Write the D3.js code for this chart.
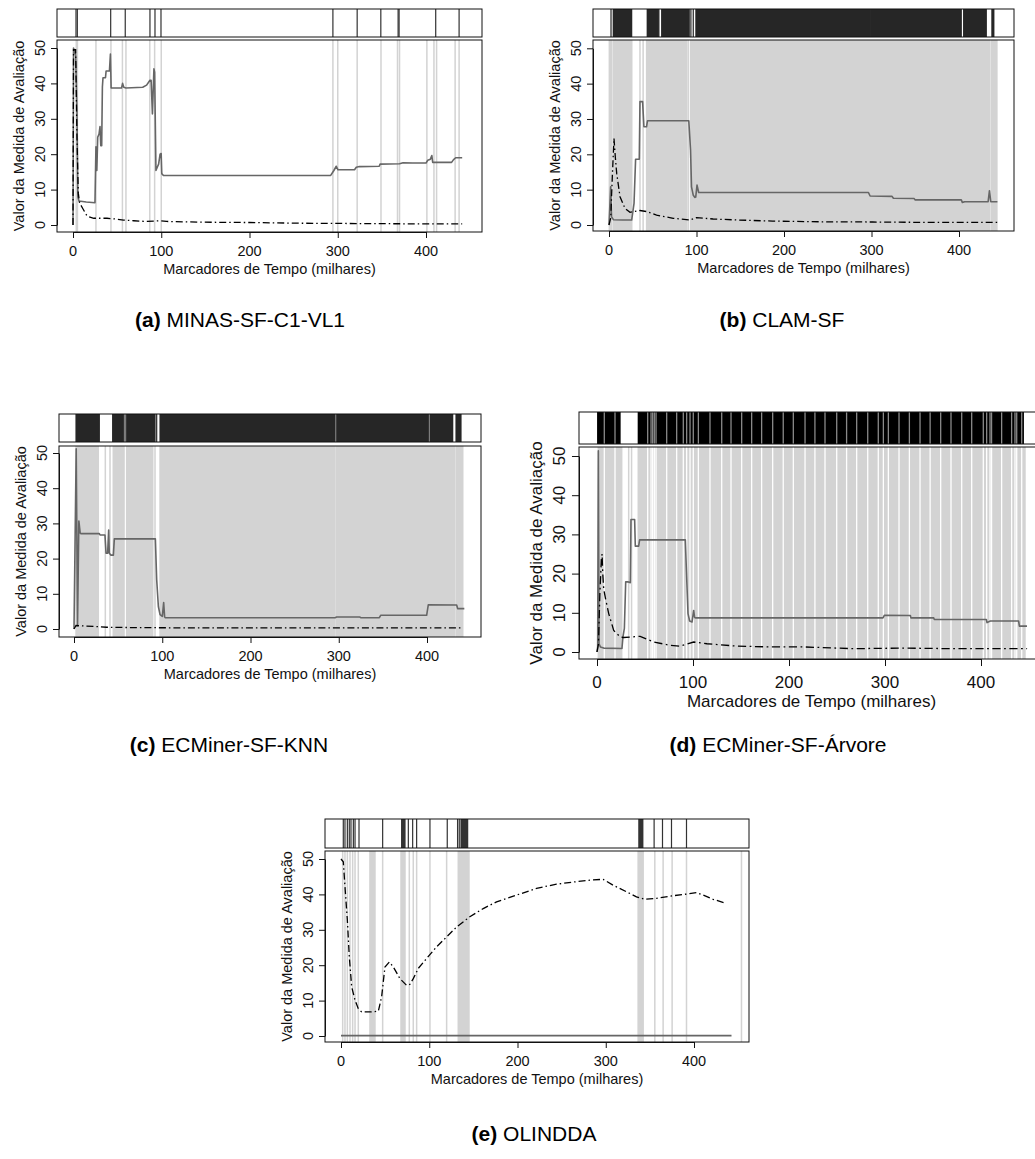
<!DOCTYPE html>
<html>
<head>
<meta charset="utf-8">
<script src="https://cdn.jsdelivr.net/npm/d3@7"></script>
<style>
  body { margin: 0; background: #fff; }
  text { font-family: "Liberation Sans", Arial, Helvetica, sans-serif; }
</style>
</head>
<body>
<svg id="fig"></svg>
<script>
// ---- shared labels
const xTicks = [0, 100, 200, 300, 400];
const yTicks = [0, 10, 20, 30, 40, 50];
const xTitle = "Marcadores de Tempo (milhares)";
const yTitle = "Valor da Medida de Avaliação";

// ---- (a) MINAS-SF-C1-VL1   spans are [start, end] in thousands
const stripA = [[3.4,3.4],[4.9,4.9],[42.7,42.7],[59.2,59.2],[87.2,87.2],[92.9,92.9],[99.7,99.7],
  [294.5,294.5],[322,322],[348.8,348.8],[368.4,368.4],[369.5,369.5],[411,411],[437.5,437.5]];
const bandsA = [[3.7,3.7],[5,5],[26,26],[43,43],[56,56],[60,60],[87,87],[92.5,92.5],[100,100],
  [294.5,294.5],[300,300],[322,322],[349,349],[367.7,367.7],[370,370],[401,401],[409,409],
  [412,412],[433,433],[437.5,437.5]];
const solidA = [[0,0],[0.6,50],[3,48],[4.5,32],[5.5,8],[6.8,6.8],[15,6.5],[24.9,6.3],[26,22.1],
  [27,15.4],[28,24.8],[29.5,25.7],[30.6,27.8],[31.5,22.4],[32.5,22.4],[33.3,39],[34,41.6],
  [36.8,41.6],[37.5,43.5],[41.3,43.5],[42.4,48.3],[43.2,38.7],[55,38.7],[56.2,40],[57.5,38.9],
  [60,38.7],[79,38.9],[83.4,39.5],[87.2,40.9],[88.5,40.9],[90,31.4],[91.7,44.1],[92.5,43.2],
  [94,15.4],[95.5,16.3],[97,17.2],[98.7,20],[99.9,20.2],[100.6,14.5],[102.5,14],[292,14],
  [295.6,15.4],[298.3,16.6],[300.3,15.6],[319,15.6],[321,16.3],[324.5,16.5],[347,16.6],
  [348,17.2],[370,17.3],[374,17.6],[385,17.5],[400,17.5],[402,18.3],[405,18.6],[406.6,19.6],
  [407.6,17.7],[429,17.7],[431,18.4],[433.6,19],[441,19]];
const dashA = [[0,0],[0.6,49.5],[3,49.5],[4.4,26],[6,9],[7.5,6.2],[11.2,4.6],[16,2.5],[23.5,1.9],
  [38.5,1.9],[48,1.7],[57.3,1.4],[68.7,1.2],[83.4,1.0],[98.7,1.2],[106,1.0],[143.8,0.8],
  [200,0.7],[257,0.5],[332,0.4],[408,0.3],[441,0.3]];

// ---- (b) CLAM-SF
const stripB = [[2.3,2.3],[4.9,25.9],[43.7,56.3],[57,57],[60.2,91.7],[93.6,93.6],[96.3,96.3],
  [99.3,298],[299,402.6],[405.3,431.2],[437.6,439.8]];
const bandsB = [[0.4,3],[5,26],[35.4,35.4],[39,39],[43,57.4],[59,88.7],[90.5,90.5],[93.2,93.2],
  [94.4,407.5],[408.7,435],[436.9,443.3]];
const solidB = [[0,0],[1.9,10.8],[3,2.3],[5,1.5],[15,1.4],[25.9,1.4],[27,3.3],[28.6,6.1],
  [30.4,18.6],[34.6,18.6],[35.4,34.9],[38.4,34.9],[39.9,27.8],[42.9,27.8],[44,29.5],[91.2,29.5],
  [93.2,21.2],[94.3,10.8],[96.2,8.5],[98,7.8],[99.1,7.9],[100.6,11.3],[102.5,9.2],[296.5,9.2],
  [298.4,8.2],[323.5,8.1],[325,7.55],[348.6,7.5],[350,7.1],[402.6,7.1],[403.8,6.4],[406.6,6.6],
  [433.3,6.6],[434.8,9.7],[436.3,6.6],[443.9,6.6]];
const dashB = [[0,0],[2,2],[4,15],[5.7,24.5],[7.2,19.3],[8.8,14.6],[12.6,8],[18.3,4.7],[24,3.6],
  [35.4,4.1],[43,3.8],[54.4,2.8],[73.4,1.9],[92.4,1.4],[100,2.1],[119,1.7],[149,1.4],[187,1.1],
  [244,0.9],[301,0.85],[358,0.75],[415,0.75],[444,0.75]];

// ---- (c) ECMiner-SF-KNN
const stripC = [[2.3,28.7],[43.8,55.9],[57.8,57.8],[59.7,91.8],[93.7,93.7],[97.5,295.8],
  [297.7,401.5],[403.4,429.1],[432.9,438.5]];
const bandsC = [[2.3,27.5],[35.5,35.5],[40.8,40.8],[44.5,56.7],[59.7,89.2],[91.8,91.8],
  [97.5,295.8],[297.7,431.7],[433.7,440.5]];
const solidC = [[0,0],[2.5,51.2],[4,1],[5.5,30.7],[7,27.3],[7.6,27.1],[28.7,27.1],[29.5,26.7],
  [35.1,26.7],[36.3,21.5],[38.1,21.5],[39.3,28.1],[40,21.5],[41.9,21],[44.6,21],[45.7,25.6],
  [92.2,25.6],[93.7,14],[95.6,6.4],[97.5,4.1],[100.1,3.6],[101.6,7.5],[102.7,3.4],[103.5,3.2],
  [295.8,3.2],[297.6,3.4],[324,3.4],[325,3.2],[346,3.2],[347.5,3.9],[399.6,3.9],[401.5,6.9],
  [433.6,6.8],[434.7,5.8],[442.3,5.8]];
const dashC = [[0,0],[2.3,1],[6.8,0.9],[22,0.75],[37,0.5],[67,0.4],[143,0.3],[256,0.3],[440,0.3]];

// ---- (d) ECMiner-SF-Árvore
const stripD = [[0.7,24],[43,444.1]];
const bandsD = [[1.4,25.7],[33,33],[36,36],[43,445.8]];
const gapsD = [7.6,18.75,52.8,56.3,58,59.7,61.5,72.6,83,89.9,93.4,96.9,100.3,105.6,117.7,129.9,
  139.6,150.7,161.1,171.5,183,194,204.5,216.7,227,237.5,249.7,260,270.5,282,293,298.3,303.5,
  314.6,325.4,336.5,347,358,368.75,379.9,390.3,402.4,405.9,409.4,411,421.5,431.9,435.4,437.2,442.4];
const solidD = [[0,0],[0.7,1.3],[1.4,51.3],[2.1,2.1],[3.5,1.3],[7,1],[26,0.9],[27,3.8],[28.5,6],
  [29.9,17.9],[32,17.9],[34.7,17.7],[35.4,33.8],[39.2,33.8],[39.9,27],[43.4,27],[44.4,28.6],
  [92,28.6],[93,21.7],[94.8,9.8],[96.5,7.9],[99,7.65],[100.7,10.6],[101.7,8.8],[102.5,8.7],
  [297.9,8.7],[299.3,9.35],[326.4,9.3],[327,8.7],[350.7,8.7],[351.4,8.3],[405.6,8.3],
  [406.25,7.5],[409.7,7.9],[439.2,7.9],[440,6.6],[447.9,6.6]];
const dashD = [[0,0],[1.5,2],[3,15],[4.5,23.5],[5.3,25],[6,20],[7,16],[9,13.5],[12.2,9.8],
  [17.4,5.5],[24.3,3.8],[27.8,3.7],[45,4],[59,2.55],[76.4,1.7],[86.8,1.5],[100.7,2.55],
  [114.6,2.1],[145.8,1.5],[180.6,1.3],[215,1.3],[267,0.85],[319,1],[371.5,0.85],[448,0.85]];

// ---- (e) OLINDDA
const stripE = [[2.6,2.6],[4.5,4.5],[7.2,7.2],[9.4,9.4],[11.3,11.3],[14,14],[15.9,15.9],[20.4,20.4],
  [47.2,47.2],[68.7,72.5],[76.3,76.3],[81.2,81.2],[85.7,85.7],[100.8,100.8],[120.4,120.4],
  [132.1,132.1],[134,134],[136,143.5],[337.5,342],[354.8,354.8],[364.3,364.3],[374.5,374.5],
  [391.5,391.5]];
const bandsE = [[1.9,1.9],[4.5,4.5],[7.2,7.2],[10.2,10.2],[13.2,13.2],[15.9,15.9],[19.6,19.6],
  [32.8,38.5],[47.2,47.2],[68,72.5],[77.4,77.4],[81.9,81.9],[85.7,85.7],[100.8,100.8],
  [119.7,119.7],[132.9,145],[336.7,342.4],[355.6,355.6],[365,365],[375.2,375.2],[391.5,391.5],
  [453.8,453.8]];
const solidE = [[0,0.1],[442.5,0.1]];
const dashE = [[0,50],[2.6,49.2],[4.5,42.2],[7.2,32.7],[9.4,22.4],[12.1,13.9],[15.9,10.1],
  [19.6,7.7],[23.4,6.8],[32.8,6.8],[42.3,7],[46,11],[49.8,19.5],[54.7,20.9],[59.3,19.5],
  [66.8,16.2],[74.4,14.3],[78.1,14.6],[81.9,16.2],[87.6,19.1],[97,21.9],[108.3,25.2],
  [119.7,28],[131,30.8],[146,33.7],[161.2,36],[176.3,37.9],[199,39.8],[221.6,41.7],
  [244.2,42.9],[266.9,43.6],[285.8,44.1],[297,44.25],[308.4,42.6],[323.5,40.75],[334.8,39.3],
  [344.3,38.6],[357.5,38.9],[372.6,39.5],[391.5,40.1],[402.8,40.5],[410.3,39.8],[421.7,38.6],
  [434.9,37.6]];

// ---- layout of the five panels
const panels = [
  {tag:"(a)", name:"MINAS-SF-C1-VL1", strip:stripA, bands:bandsA, gaps:[], solid:solidA, dash:dashA,
   x0:57, x1:482, sTop:9, sBot:37, pTop:40, pBot:232, xr:[73,426], yr:[225,48], fs:14.5, k:1,
   stripFill:"#333", capX:240, capY:327},
  {tag:"(b)", name:"CLAM-SF", strip:stripB, bands:bandsB, gaps:[], solid:solidB, dash:dashB,
   x0:593, x1:1014, sTop:9, sBot:37, pTop:40, pBot:231, xr:[609,959], yr:[225,48.3], fs:14.5, k:1,
   stripFill:"#262626", capX:782, capY:327},
  {tag:"(c)", name:"ECMiner-SF-KNN", strip:stripC, bands:bandsC, gaps:[], solid:solidC, dash:dashC,
   x0:59, x1:481, sTop:414, sBot:442, pTop:446, pBot:637, xr:[74,427], yr:[629,453], fs:14.5, k:1,
   stripFill:"#262626", capX:229, capY:752},
  {tag:"(d)", name:"ECMiner-SF-Árvore", strip:stripD, bands:bandsD, gaps:gapsD, solid:solidD, dash:dashD,
   x0:579, x1:1044, sTop:412, sBot:444, pTop:447, pBot:659, xr:[597,981], yr:[652,456], fs:17, k:1.17,
   stripFill:"#000", capX:778, capY:752},
  {tag:"(e)", name:"OLINDDA", strip:stripE, bands:bandsE, gaps:[], solid:solidE, dash:dashE,
   x0:325, x1:749, sTop:819, sBot:848, pTop:851, pBot:1042, xr:[341,694], yr:[1036,859], fs:14.5, k:1,
   stripFill:"#333", capX:534, capY:1141}
];

const W = 1035, H = 1159;
const svg = d3.select("#fig").attr("width", W).attr("height", H);
svg.append("rect").attr("width", W).attr("height", H).attr("fill", "#fff");

panels.forEach(function(p, i) {
  var x = d3.scaleLinear().domain([0, 400]).range(p.xr);
  var y = d3.scaleLinear().domain([0, 50]).range(p.yr);
  var g = svg.append("g");

  // clip regions
  var defs = g.append("defs");
  defs.append("clipPath").attr("id", "cs" + i).append("rect")
    .attr("x", p.x0).attr("y", p.sTop).attr("width", p.x1 - p.x0).attr("height", p.sBot - p.sTop);
  defs.append("clipPath").attr("id", "cp" + i).append("rect")
    .attr("x", p.x0).attr("y", p.pTop).attr("width", p.x1 - p.x0).attr("height", p.pBot - p.pTop);

  // top strip with event marks
  var sg = g.append("g").attr("clip-path", "url(#cs" + i + ")");
  sg.selectAll("rect.ev").data(p.strip).enter().append("rect")
    .attr("x", function(d) { return x(d[0]) - 0.6; })
    .attr("width", function(d) { return x(d[1]) - x(d[0]) + 1.2; })
    .attr("y", p.sTop).attr("height", p.sBot - p.sTop)
    .attr("fill", p.stripFill);
  sg.selectAll("line.gap").data(p.gaps).enter().append("line")
    .attr("x1", function(d) { return x(d); }).attr("x2", function(d) { return x(d); })
    .attr("y1", p.sTop).attr("y2", p.sBot)
    .attr("stroke", "#8a8a8a").attr("stroke-width", 1.3);
  g.append("rect").attr("x", p.x0).attr("y", p.sTop)
    .attr("width", p.x1 - p.x0).attr("height", p.sBot - p.sTop)
    .attr("fill", "none").attr("stroke", "#111").attr("stroke-width", 1);

  // plot area: light gray bands
  var pg = g.append("g").attr("clip-path", "url(#cp" + i + ")");
  pg.selectAll("rect.band").data(p.bands).enter().append("rect")
    .attr("x", function(d) { return x(d[0]) - 0.75; })
    .attr("width", function(d) { return x(d[1]) - x(d[0]) + 1.5; })
    .attr("y", p.pTop).attr("height", p.pBot - p.pTop)
    .attr("fill", "#d3d3d3");
  pg.selectAll("line.gap").data(p.gaps).enter().append("line")
    .attr("x1", function(d) { return x(d); }).attr("x2", function(d) { return x(d); })
    .attr("y1", p.pTop).attr("y2", p.pBot)
    .attr("stroke", "#fff").attr("stroke-width", 1.3);

  var line = d3.line()
    .x(function(d) { return x(d[0]); })
    .y(function(d) { return y(d[1]); });

  pg.append("path").datum(p.solid)
    .attr("fill", "none").attr("stroke", "#666").attr("stroke-width", 1.6)
    .attr("stroke-linejoin", "round").attr("d", line);
  pg.append("path").datum(p.dash)
    .attr("fill", "none").attr("stroke", "#000").attr("stroke-width", 1.3)
    .attr("stroke-dasharray", (7 * p.k) + "," + (3 * p.k) + "," + (1.5 * p.k) + "," + (3 * p.k))
    .attr("d", line);

  g.append("rect").attr("x", p.x0).attr("y", p.pTop)
    .attr("width", p.x1 - p.x0).attr("height", p.pBot - p.pTop)
    .attr("fill", "none").attr("stroke", "#111").attr("stroke-width", 1);

  // axes (R style: line only across tick span)
  var tl = 6 * p.k;
  g.append("g").attr("transform", "translate(0," + p.pBot + ")")
    .call(d3.axisBottom(x).tickValues(xTicks).tickSize(tl).tickSizeOuter(0).tickFormat(""))
    .call(function(a) { a.selectAll("path,line").attr("stroke", "#111"); });
  g.append("g").attr("transform", "translate(" + p.x0 + ",0)")
    .call(d3.axisLeft(y).tickValues(yTicks).tickSize(tl).tickSizeOuter(0).tickFormat(""))
    .call(function(a) { a.selectAll("path,line").attr("stroke", "#111"); });

  g.selectAll("text.xt").data(xTicks).enter().append("text")
    .attr("x", function(d) { return x(d); }).attr("y", p.pBot + 24 * p.k + (p.k > 1 ? 0.5 : 0))
    .attr("text-anchor", "middle").attr("font-size", p.fs).attr("fill", "#111")
    .text(function(d) { return d; });
  g.selectAll("text.yt").data(yTicks).enter().append("text")
    .attr("transform", function(d) {
      return "translate(" + (p.x0 - 12 * p.k) + "," + y(d) + ") rotate(-90)";
    })
    .attr("text-anchor", "middle").attr("font-size", p.fs).attr("fill", "#111")
    .text(function(d) { return d; });

  g.append("text")
    .attr("x", (p.x0 + p.x1) / 2).attr("y", p.pBot + 42 * p.k + (p.k > 1 ? -1 : 0))
    .attr("text-anchor", "middle").attr("font-size", p.fs).attr("fill", "#111")
    .text(xTitle);
  g.append("text")
    .attr("transform", "translate(" + (p.x0 - 33 * p.k + (p.k > 1 ? 2 : 0)) + "," + ((p.pTop + p.pBot) / 2) + ") rotate(-90)")
    .attr("text-anchor", "middle").attr("font-size", p.fs).attr("fill", "#111")
    .text(yTitle);

  // caption
  var cap = svg.append("text")
    .attr("x", p.capX).attr("y", p.capY)
    .attr("text-anchor", "middle").attr("font-size", 21).attr("fill", "#000");
  cap.append("tspan").attr("font-weight", "bold").text(p.tag);
  cap.append("tspan").text(" " + p.name);
});
</script>
</body>
</html>
